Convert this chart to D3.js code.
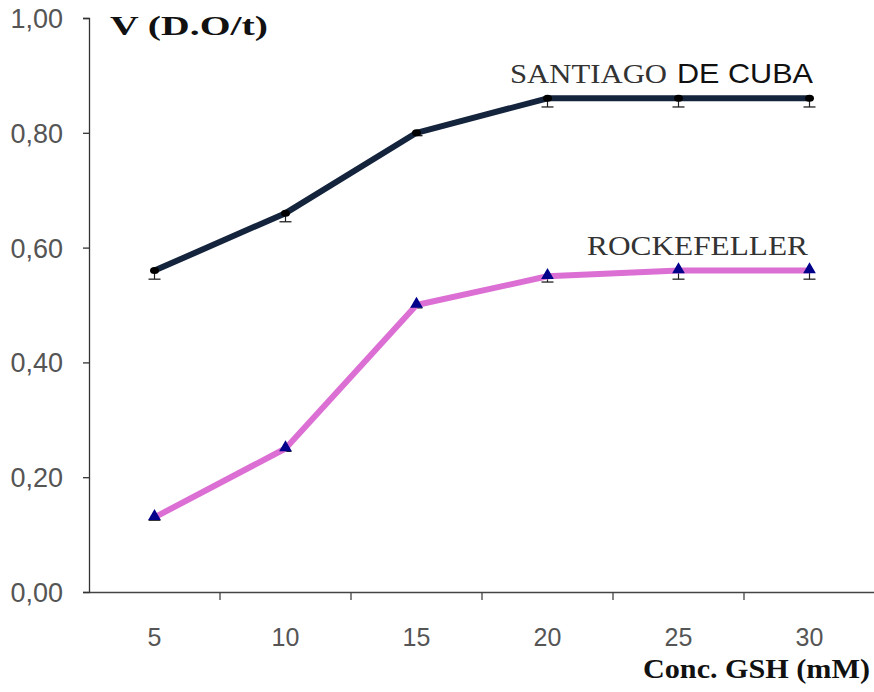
<!DOCTYPE html>
<html><head><meta charset="utf-8">
<script src="https://cdn.jsdelivr.net/npm/d3@7"></script>
<style>body{margin:0;background:#fff}</style>
</head><body>
<svg id="c" width="874" height="692"></svg>
<script>
const categories = ["5","10","15","20","25","30"];
const santiago = [0.56,0.66,0.80,0.86,0.86,0.86];
const santiagoErr = [0.015,0.015,0.005,0.015,0.015,0.015];
const rockefeller = [0.13,0.25,0.50,0.55,0.56,0.56];
const rockefellerErr = [0.005,0.005,0.005,0.01,0.015,0.015];
const yTicks = [0,0.2,0.4,0.6,0.8,1.0];

const svg = d3.select("#c");
const x = d3.scaleBand().domain(categories).range([89,875]);
const y = d3.scaleLinear().domain([0,1]).range([592,18]);

// y axis
const yAxis = d3.axisLeft(y).tickValues(yTicks).tickSize(6)
  .tickFormat(d => d3.format(".2f")(d).replace(".",","));
const gy = svg.append("g").attr("transform","translate(89,0)").call(yAxis);
gy.select(".domain").attr("stroke","#333").attr("stroke-width",1.3);
gy.selectAll(".tick line").attr("stroke","#333").attr("stroke-width",1.3);
gy.selectAll(".tick text").attr("font-family","Liberation Sans, Arial, sans-serif").attr("font-size",27)
  .attr("fill","#555").attr("x",-26).attr("dy","0.35em");

// x axis
const xAxis = d3.axisBottom(x).tickSize(0);
const gx = svg.append("g").attr("transform","translate(0,592)").call(xAxis);
gx.select(".domain").attr("stroke","#444").attr("stroke-width",1.5);
gx.selectAll(".tick text").attr("font-family","Liberation Sans, Arial, sans-serif").attr("font-size",25)
  .attr("fill","#555").attr("y",36);
// band boundary ticks
svg.append("g").selectAll("line").data(categories.slice(1)).join("line")
  .attr("x1",d=>x(d)).attr("x2",d=>x(d)).attr("y1",592).attr("y2",600)
  .attr("stroke","#444").attr("stroke-width",1.3);

const cx = d => x(d) + x.bandwidth()/2;

function series(vals, errs, color, markerFn) {
  const pts = vals.map((v,i)=>({c:categories[i],v,e:errs[i]}));
  const eb = svg.append("g");
  pts.forEach(p=>{
    eb.append("line").attr("x1",cx(p.c)).attr("x2",cx(p.c)).attr("y1",y(p.v)).attr("y2",y(p.v-p.e))
      .attr("stroke","#222").attr("stroke-width",1.2);
    eb.append("line").attr("x1",cx(p.c)-6).attr("x2",cx(p.c)+6)
      .attr("y1",y(p.v-p.e)).attr("y2",y(p.v-p.e)).attr("stroke","#222").attr("stroke-width",1.3);
  });
  svg.append("path").datum(pts)
    .attr("d", d3.line().x(p=>cx(p.c)).y(p=>y(p.v)))
    .attr("fill","none").attr("stroke",color).attr("stroke-width",6).attr("stroke-linejoin","round");
  markerFn(svg.append("g"), pts);
}

series(santiago, santiagoErr, "#14243c", (g,pts)=>{
  g.selectAll("ellipse").data(pts).join("ellipse")
    .attr("cx",p=>cx(p.c)).attr("cy",p=>y(p.v)).attr("rx",4.5).attr("ry",3.5).attr("fill","#000");
});
series(rockefeller, rockefellerErr, "#dc6fd3", (g,pts)=>{
  g.selectAll("path").data(pts).join("path")
    .attr("d", d3.symbol(d3.symbolTriangle, 70))
    .attr("transform",p=>`translate(${cx(p.c)},${y(p.v)-1})`).attr("fill","#00008b");
});

// titles
svg.append("text").attr("x",110).attr("y",35).attr("font-family","Liberation Serif, serif")
  .attr("font-weight","bold").attr("font-size",28).attr("fill","#111")
  .attr("textLength",158).attr("lengthAdjust","spacingAndGlyphs").text("V (D.O/t)");
svg.append("text").attr("x",643).attr("y",678).attr("font-family","Liberation Serif, serif")
  .attr("font-weight","bold").attr("font-size",28).attr("fill","#111")
  .attr("textLength",227).attr("lengthAdjust","spacingAndGlyphs").text("Conc. GSH (mM)");

// series labels
svg.append("text").attr("x",510).attr("y",83).attr("font-size",28).attr("fill","#333")
  .attr("font-family","Liberation Serif, serif")
  .attr("textLength",157).attr("lengthAdjust","spacingAndGlyphs").text("SANTIAGO");
svg.append("text").attr("x",677).attr("y",83).attr("font-size",28).attr("fill","#111")
  .attr("font-family","Liberation Sans, Arial, sans-serif")
  .attr("textLength",136).attr("lengthAdjust","spacingAndGlyphs").text("DE CUBA");
svg.append("text").attr("x",587).attr("y",255).attr("font-size",27)
  .attr("font-family","Liberation Serif, serif").attr("fill","#333")
  .attr("textLength",221).attr("lengthAdjust","spacingAndGlyphs").text("ROCKEFELLER");
</script>
</body></html>
